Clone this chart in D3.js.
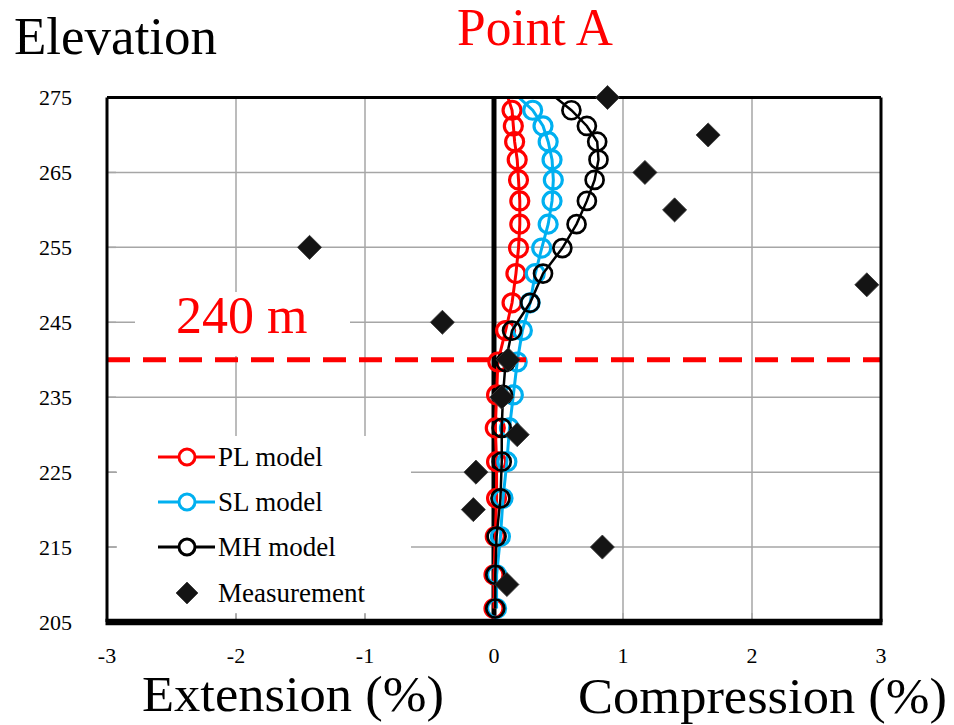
<!DOCTYPE html>
<html><head><meta charset="utf-8">
<script src="https://cdn.jsdelivr.net/npm/d3@7"></script>
<style>
body{margin:0;background:#fff}
svg{display:block}
text{font-family:"Liberation Serif","Times New Roman",serif}
</style>
</head><body>
<svg id="chart" width="954" height="725"></svg>
<script>
// Model nodes (elevation, m) and computed strain (%) per model
const elevations = [276.5, 273.3, 271.2, 269.1, 266.7, 264.0, 261.2, 258.1, 254.9, 251.5, 247.6, 243.9, 239.7, 235.3, 230.9, 226.4, 221.5, 216.4, 211.3, 206.8];
const plModel = [0.08, 0.14, 0.15, 0.16, 0.18, 0.19, 0.20, 0.20, 0.19, 0.17, 0.14, 0.09, 0.03, 0.02, 0.01, 0.02, 0.02, 0.01, 0.00, 0.00];
const slModel = [0.10, 0.30, 0.38, 0.42, 0.45, 0.46, 0.45, 0.42, 0.37, 0.32, 0.28, 0.22, 0.18, 0.15, 0.12, 0.10, 0.07, 0.05, 0.02, 0.02];
const mhModel = [0.37, 0.60, 0.72, 0.80, 0.81, 0.78, 0.72, 0.64, 0.53, 0.38, 0.28, 0.14, 0.09, 0.07, 0.06, 0.06, 0.05, 0.02, 0.01, 0.01];

// Field measurements
const measElev = [275, 270, 265, 260, 255, 250, 245, 240, 235, 230, 225, 220, 215, 210];
const measValue = [0.88, 1.66, 1.17, 1.40, -1.43, 2.89, -0.40, 0.11, 0.06, 0.18, -0.14, -0.16, 0.84, 0.10];

// Axes
const xTicks = [-3, -2, -1, 0, 1, 2, 3];
const yTicks = [205, 215, 225, 235, 245, 255, 265, 275];
const gridX = [-2, -1, 1, 2];
const gridY = [215, 225, 235, 245, 255, 265];

const seriesNames = ["PL model", "SL model", "MH model"];
const seriesColors = ["#ff0000", "#00b0f0", "#000000"];
const markerLevel = 240;
const markerLabel = "240 m";

const svg = d3.select("#chart");
const L = 107, R = 881, T = 97.5, B = 622;
const x = d3.scaleLinear().domain([-3, 3]).range([L, R]);
const y = d3.scaleLinear().domain([205, 275]).range([B, T]);

const defs = svg.append("defs");
defs.append("clipPath").attr("id", "plot").append("rect")
  .attr("x", L).attr("y", T).attr("width", R - L).attr("height", B - T);

// gridlines
const grid = svg.append("g").attr("stroke", "#a6a6a6").attr("stroke-width", 1.5);
grid.selectAll(".gx").data(gridX).join("line")
  .attr("x1", d => x(d)).attr("x2", d => x(d)).attr("y1", T).attr("y2", B);
grid.selectAll(".gy").data(gridY).join("line")
  .attr("x1", L).attr("x2", R).attr("y1", d => y(d)).attr("y2", d => y(d));

// white boxes behind legend and level label
svg.append("rect").attr("x", 117).attr("y", 436).attr("width", 294).attr("height", 178).attr("fill", "#fff");
svg.append("rect").attr("x", 135).attr("y", 292).attr("width", 215).attr("height", 64).attr("fill", "#fff");

// small inner ticks
const ticks = svg.append("g").attr("stroke", "#a6a6a6").attr("stroke-width", 1.5);
ticks.selectAll(".ty").data(yTicks).join("line")
  .attr("x1", L).attr("x2", L + 9).attr("y1", d => y(d)).attr("y2", d => y(d));
ticks.selectAll(".tx").data(xTicks).join("line")
  .attr("x1", d => x(d)).attr("x2", d => x(d)).attr("y1", B - 9).attr("y2", B);

// zero line
svg.append("line").attr("x1", x(0)).attr("x2", x(0)).attr("y1", T).attr("y2", B)
  .attr("stroke", "#000").attr("stroke-width", 5);

// model series
const models = [plModel, slModel, mhModel];
const plotG = svg.append("g").attr("clip-path", "url(#plot)");
models.forEach((vals, i) => {
  const pts = elevations.map((e, k) => [vals[k], e]);
  const line = d3.line().x(d => x(d[0])).y(d => y(d[1]));
  const g = plotG.append("g");
  g.append("path").attr("d", line(pts)).attr("fill", "none")
    .attr("stroke", seriesColors[i]).attr("stroke-width", i === 2 ? 2.5 : 3);
  g.selectAll("circle").data(pts).join("circle")
    .attr("cx", d => x(d[0])).attr("cy", d => y(d[1])).attr("r", 9)
    .attr("fill", "none").attr("stroke", seriesColors[i]).attr("stroke-width", i === 2 ? 2.7 : 3.2);
});

// 240 m level
svg.append("line").attr("x1", L).attr("x2", R).attr("y1", y(markerLevel)).attr("y2", y(markerLevel))
  .attr("stroke", "#ff0000").attr("stroke-width", 5).attr("stroke-dasharray", "23,13");

// plot frame
const frame = svg.append("g").attr("stroke", "#000");
frame.append("line").attr("x1", L).attr("x2", R).attr("y1", T).attr("y2", T).attr("stroke-width", 3);
frame.append("line").attr("x1", L).attr("x2", L).attr("y1", T).attr("y2", B).attr("stroke-width", 3);
frame.append("line").attr("x1", R).attr("x2", R).attr("y1", T).attr("y2", B).attr("stroke-width", 3);
frame.append("line").attr("x1", L - 1.5).attr("x2", R + 1.5).attr("y1", B).attr("y2", B).attr("stroke-width", 6.5);

// measurements
const diamond = d3.symbol().type(d3.symbolSquare).size(290);
svg.append("g").selectAll("path").data(measElev.map((e, k) => [measValue[k], e])).join("path")
  .attr("d", diamond)
  .attr("transform", d => `translate(${x(d[0])},${y(d[1])}) rotate(45)`)
  .attr("fill", "#141414").attr("stroke", "#3a3a3a").attr("stroke-width", 0.8);

// tick labels
svg.append("g").selectAll("text").data(yTicks).join("text")
  .attr("x", 72).attr("y", d => y(d)).attr("dy", "0.35em")
  .attr("text-anchor", "end").attr("font-size", 22).text(d => d);
svg.append("g").selectAll("text").data(xTicks).join("text")
  .attr("x", d => x(d)).attr("y", 663)
  .attr("text-anchor", "middle").attr("font-size", 22).text(d => d);

// legend
const legendRows = [457, 502, 547];
const lg = svg.append("g");
seriesNames.forEach((name, i) => {
  const yy = legendRows[i];
  lg.append("line").attr("x1", 158).attr("x2", 215).attr("y1", yy).attr("y2", yy)
    .attr("stroke", seriesColors[i]).attr("stroke-width", 3);
  lg.append("circle").attr("cx", 187).attr("cy", yy).attr("r", 8)
    .attr("fill", "#fff").attr("stroke", seriesColors[i]).attr("stroke-width", 3);
  lg.append("text").attr("x", 218).attr("y", yy).attr("dy", "0.35em")
    .attr("font-size", 27).text(name);
});
lg.append("path").attr("d", d3.symbol().type(d3.symbolSquare).size(240))
  .attr("transform", "translate(187,593) rotate(45)")
  .attr("fill", "#141414").attr("stroke", "#3a3a3a").attr("stroke-width", 0.8);
lg.append("text").attr("x", 218).attr("y", 593).attr("dy", "0.35em")
  .attr("font-size", 27).text("Measurement");

// titles and axis captions
svg.append("text").attr("x", 14).attr("y", 54).attr("font-size", 53).text("Elevation");
svg.append("text").attr("x", 457).attr("y", 45).attr("font-size", 52).attr("fill", "#ff0000")
  .attr("textLength", 156).attr("lengthAdjust", "spacingAndGlyphs").text("Point A");
svg.append("text").attr("x", 176).attr("y", 333).attr("font-size", 52).attr("fill", "#ff0000").text(markerLabel);
svg.append("text").attr("x", 142).attr("y", 711).attr("font-size", 51)
  .attr("textLength", 302).attr("lengthAdjust", "spacingAndGlyphs").text("Extension (%)");
svg.append("text").attr("x", 578).attr("y", 713).attr("font-size", 51)
  .attr("textLength", 369).attr("lengthAdjust", "spacingAndGlyphs").text("Compression (%)");
</script>
</body></html>
